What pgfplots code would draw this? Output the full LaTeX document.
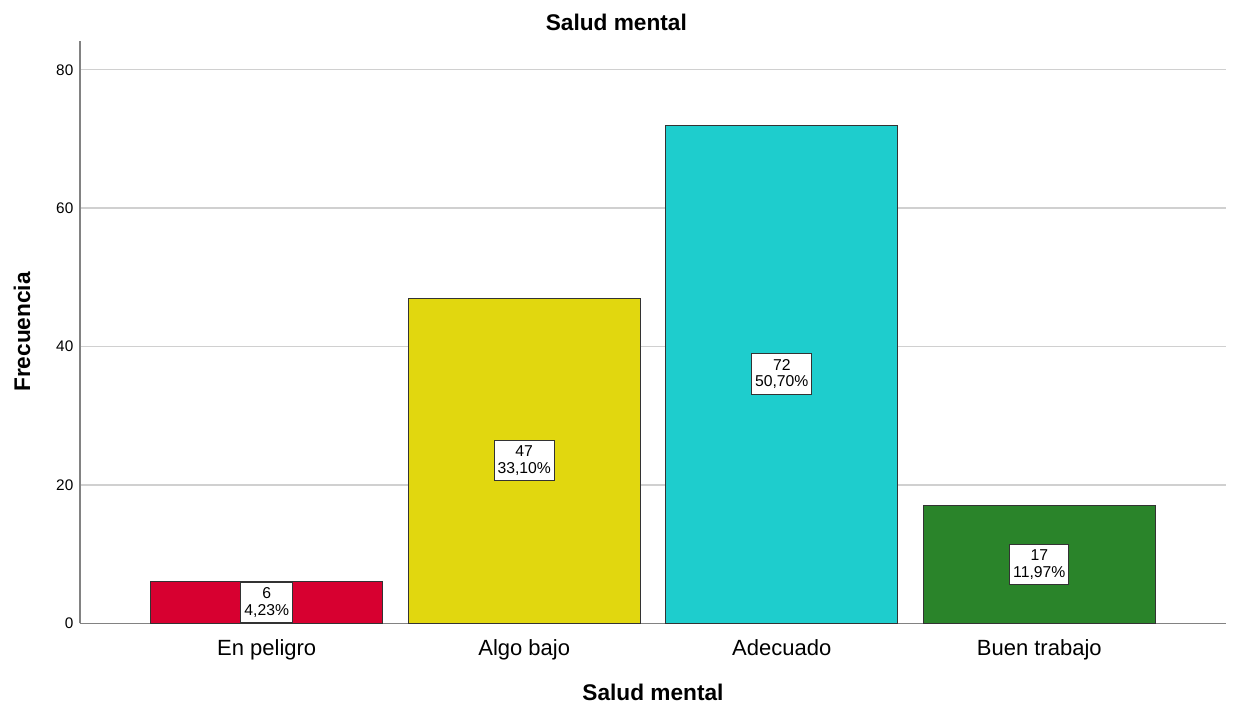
\documentclass[border=0pt]{standalone}
\usepackage{pgfplots}
\pgfplotsset{compat=1.18}
\usepackage{fontspec}
\setmainfont{Liberation Sans}
\definecolor{cRed}{RGB}{215,0,48}
\definecolor{cYel}{RGB}{225,215,15}
\definecolor{cCya}{RGB}{30,205,205}
\definecolor{cGrn}{RGB}{42,132,42}
\definecolor{axgray}{RGB}{130,130,130}
\definecolor{gridgray}{RGB}{208,208,208}
\begin{document}
\begin{tikzpicture}
\path[use as bounding box] (-60pt,-62pt) rectangle (864.75pt,467.5pt);
\begin{axis}[
  at={(0,0)}, anchor=south west,
  scale only axis,
  width=859.5pt, height=437pt,
  xmin=-0.725, xmax=3.725,
  ymin=0, ymax=84.2,
  axis x line*=bottom, axis y line*=left,
  axis line style={axgray, line width=1.2pt, -},
  xtick={0,1,2,3},
  xticklabels={En peligro, Algo bajo, Adecuado, Buen trabajo},
  ytick={0,20,40,60,80},
  major tick length=0pt,
  ymajorgrids,
  grid style={gridgray, line width=1.1pt},
  /pgf/number format/assume math mode=true,
  yticklabel style={font=\fontsize{11.5}{13}\selectfont, xshift=-1.5pt},
  xticklabel style={font=\fontsize{16.5}{19}\selectfont, anchor=base, yshift=-24.5pt},
  title={Salud mental},
  title style={font=\bfseries\fontsize{17}{20}\selectfont, at={(axis description cs:0.468,1)}, anchor=center, yshift=7.5pt},
  xlabel={Salud mental},
  xlabel style={font=\bfseries\fontsize{17}{20}\selectfont, at={(axis description cs:0.5,0)}, anchor=center, yshift=-52pt},
  ylabel={Frecuencia},
  ylabel style={font=\bfseries\fontsize{17}{20}\selectfont, at={(axis description cs:0,0.5)}, anchor=center, yshift=43.5pt},
  clip=false,
]
\addplot[ybar, bar width=0.9, bar shift=0pt, fill=cRed, draw=black!80, line width=0.8pt] coordinates {(0,6)};
\addplot[ybar, bar width=0.9, bar shift=0pt, fill=cYel, draw=black!80, line width=0.8pt] coordinates {(1,47)};
\addplot[ybar, bar width=0.9, bar shift=0pt, fill=cCya, draw=black!80, line width=0.8pt] coordinates {(2,72)};
\addplot[ybar, bar width=0.9, bar shift=0pt, fill=cGrn, draw=black!80, line width=0.8pt] coordinates {(3,17)};
\addplot[draw=none, mark=none, point meta=explicit symbolic,
  nodes near coords={\pgfplotspointmeta},
  every node near coord/.style={anchor=center, align=center, fill=white, draw=black!80, line width=0.7pt, inner xsep=2.6pt, inner ysep=4.2pt, font=\fontsize{11.8}{12.3}\selectfont}]
  coordinates {(0,3) [{6\\4,23\%}] (1,23.5) [{47\\33,10\%}] (2,36) [{72\\50,70\%}] (3,8.5) [{17\\11,97\%}]};
\end{axis}
\end{tikzpicture}
\end{document}
